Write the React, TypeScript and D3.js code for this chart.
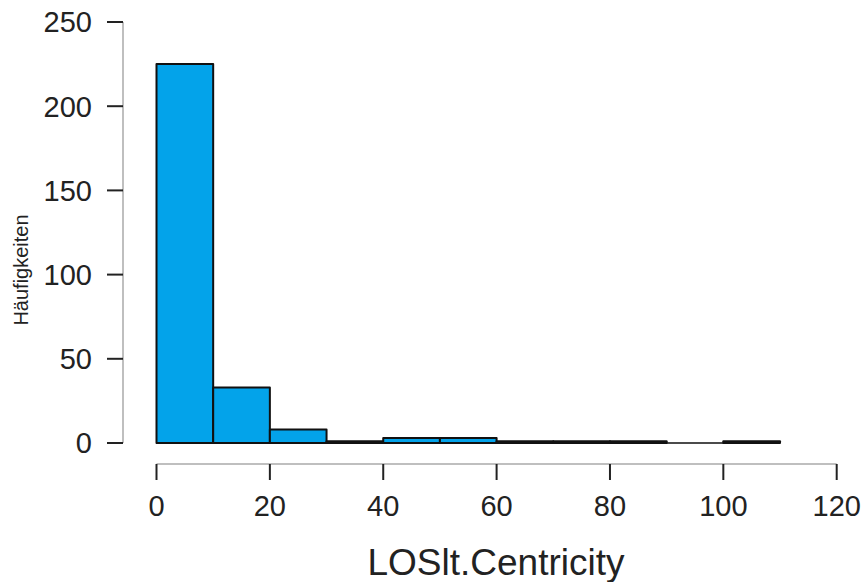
import { useEffect } from 'react';
import * as d3 from 'd3';

// histogram bins (lower edges, width 10) and counts
const binStarts = [0, 10, 20, 30, 40, 50, 60, 70, 80, 90, 100];
const binWidth = 10;
const counts = [225, 33, 8, 1, 3, 3, 1, 1, 1, 0, 1];
const xTicks = [0, 20, 40, 60, 80, 100, 120];
const yTicks = [0, 50, 100, 150, 200, 250];
const xTitle = 'LOSlt.Centricity';
const yTitle = 'Häufigkeiten';

const font = '"Liberation Sans", Arial, sans-serif';

const App = () => {
	useEffect(() => {
		document.body.style.margin = '0';
	}, []);

	const width = 866;
	const height = 582;

	const x = d3.scaleLinear().domain([0, 120]).range([156.5, 836.7]);
	const y = d3.scaleLinear().domain([0, 250]).range([443, 22]);

	const axisY = 464; // x axis line position
	const axisX = 123; // y axis line position

	// closed path per bin, so an empty bin still shows its bottom edge
	const barPath = (b: number, c: number) => {
		const x0 = x(b);
		const x1 = x(b + binWidth);
		return `M${x0},${y(0)}V${y(c)}H${x1}V${y(0)}Z`;
	};

	return (
		<svg width={width} height={height} style={{ display: 'block', background: '#fff' }}>
			{/* bars */}
			<g>
				{binStarts.map((b, i) => (
					<path
						key={b}
						d={barPath(b, counts[i])}
						fill="#03a3ea"
						stroke="#111"
						strokeWidth={counts[i] === 0 ? 1.5 : 2}
						strokeLinejoin="round"
					/>
				))}
			</g>

			{/* y axis */}
			<line x1={axisX} x2={axisX} y1={y(250)} y2={y(0)} stroke="#aaa" strokeWidth={1.5} />
			{yTicks.map((t) => (
				<g key={t}>
					<line x1={axisX - 16} x2={axisX} y1={y(t)} y2={y(t)} stroke="#222" strokeWidth={2} />
					<text
						x={92}
						y={y(t)}
						dy="0.36em"
						textAnchor="end"
						fontFamily={font}
						fontSize={29}
						fill="#222"
					>
						{t}
					</text>
				</g>
			))}

			{/* x axis */}
			<line x1={x(0)} x2={x(120)} y1={axisY} y2={axisY} stroke="#aaa" strokeWidth={1.5} />
			{xTicks.map((t) => (
				<g key={t}>
					<line x1={x(t)} x2={x(t)} y1={axisY} y2={axisY + 16} stroke="#222" strokeWidth={2} />
					<text
						x={x(t)}
						y={506}
						dy="0.36em"
						textAnchor="middle"
						fontFamily={font}
						fontSize={29}
						fill="#222"
					>
						{t}
					</text>
				</g>
			))}

			{/* titles */}
			<text x={496} y={575} textAnchor="middle" fontFamily={font} fontSize={37} fill="#222">
				{xTitle}
			</text>
			<text
				transform="translate(28, 270) rotate(-90)"
				textAnchor="middle"
				fontFamily={font}
				fontSize={20}
				fill="#222"
			>
				{yTitle}
			</text>
		</svg>
	);
};

export default App;
